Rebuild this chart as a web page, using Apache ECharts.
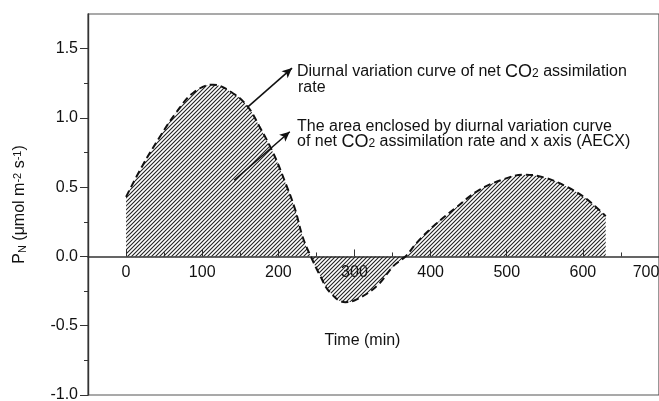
<!DOCTYPE html>
<html>
<head>
<meta charset="utf-8">
<script src="https://cdn.jsdelivr.net/npm/echarts@6/dist/echarts.min.js"></script>
<style>
  html, body { margin: 0; padding: 0; background: #fff; }
  #chart { width: 659px; height: 401px; }
</style>
</head>
<body>
<div id="chart"></div>
<script>
// diurnal net CO2 assimilation rate
const timeMin = [0, 21, 44, 66, 88, 114, 140, 160, 175, 193, 208, 222, 232, 241, 255, 268, 288, 303, 330, 351, 367, 382, 404, 435, 461, 492, 523, 549, 580, 606, 630];
const pn = [0.43, 0.65, 0.86, 1.04, 1.18, 1.24, 1.18, 1.08, 0.94, 0.75, 0.55, 0.34, 0.14, 0.02, -0.14, -0.26, -0.33, -0.31, -0.21, -0.07, 0, 0.10, 0.22, 0.36, 0.47, 0.55, 0.59, 0.57, 0.50, 0.41, 0.29];

// tick values
const xMajor = [0, 100, 200, 300, 400, 500, 600, 700];
const xMinor = [50, 150, 250, 350, 450, 550, 650];
const yMajor = [-1, -0.5, 0, 0.5, 1, 1.5];
const yMinor = [-0.75, -0.25, 0.25, 0.75, 1.25];
const yMin = -1, yMax = 1.75;

// arrow start/end points (data coords)
const arrowCurve = [[160, 1.08], [218, 1.36]];
const arrowArea = [[142, 0.55], [215, 0.90]];

const FONT = "'Liberation Sans', Arial, sans-serif";
const H = 401, TOP = 14, BOTTOM = 6;
// lift the x axis from the grid bottom up to y = 0
const zeroOffset = -(H - TOP - BOTTOM) * (0 - yMin) / (yMax - yMin);

function hatch() {
  const c = document.createElement('canvas');
  c.width = 4; c.height = 4;
  const g = c.getContext('2d');
  g.strokeStyle = '#222';
  g.lineWidth = 1.1;
  g.beginPath();
  g.moveTo(-1, 5); g.lineTo(5, -1);
  g.moveTo(-1, 1); g.lineTo(1, -1);
  g.moveTo(3, 5); g.lineTo(5, 3);
  g.stroke();
  return c;
}

const chart = echarts.init(document.getElementById('chart'));

const rich = {
  t: { fontSize: 16, fontFamily: FONT, color: '#111' },
  sub: { fontSize: 11, fontFamily: FONT, color: '#111', verticalAlign: 'bottom' },
  sup: { fontSize: 11, fontFamily: FONT, color: '#111', verticalAlign: 'top' },
  co: { fontSize: 18, fontFamily: FONT, color: '#111' },
  c2: { fontSize: 12, fontFamily: FONT, color: '#111', verticalAlign: 'bottom', padding: [0, 0, 1, 0] }
};

function note(x, y, text) {
  return {
    type: 'text', left: x, top: y,
    style: { text: text, font: '16px ' + FONT, fill: '#111', rich: rich }
  };
}

const option = {
  animation: false,
  grid: { left: 88, right: 0, top: TOP, bottom: BOTTOM, outerBoundsMode: 'none', containLabel: false,
    show: true, borderColor: '#555', borderWidth: 1.2 },
  xAxis: [
    {
      type: 'value', min: -50, max: 700, position: 'bottom', offset: zeroOffset,
      axisLine: { onZero: false, lineStyle: { color: '#333', width: 1.6 } },
      axisTick: { show: true, inside: true, length: 7, customValues: xMajor, lineStyle: { color: '#333' } },
      axisLabel: {
        customValues: xMajor, fontSize: 16, fontFamily: FONT, color: '#111', margin: 8,
        formatter: v => v === 700 ? '{r|700}' : String(v),
        rich: { r: { fontSize: 16, fontFamily: FONT, color: '#111', padding: [0, 26, 0, 0] } }
      },
      splitLine: { show: false },
      name: 'Time (min)', nameLocation: 'middle', nameGap: 76,
      nameTextStyle: { fontSize: 16, fontFamily: FONT, color: '#111', padding: [0, 22, 0, 0] }
    },
    {
      type: 'value', min: -50, max: 700, position: 'bottom', offset: zeroOffset,
      axisLine: { onZero: false, show: false },
      axisTick: { show: true, inside: true, length: 4, customValues: xMinor, lineStyle: { color: '#333' } },
      axisLabel: { show: false },
      splitLine: { show: false }
    }
  ],
  yAxis: [
    {
      type: 'value', min: yMin, max: yMax, position: 'left',
      axisLine: { show: true, onZero: false, lineStyle: { color: '#333', width: 1.4 } },
      axisTick: { show: true, length: 8, customValues: yMajor, lineStyle: { color: '#333' } },
      axisLabel: { customValues: yMajor, fontSize: 16, fontFamily: FONT, color: '#111', margin: 10, formatter: v => v.toFixed(1) },
      splitLine: { show: false },
      name: '{t|P}{sub|N}{t| (μmol m}{sup|-2}{t| s}{sup|-1}{t|)}', nameLocation: 'middle', nameRotate: 90, nameGap: 60,
      nameTextStyle: { fontSize: 16, fontFamily: FONT, color: '#111', rich: rich }
    },
    {
      type: 'value', min: yMin, max: yMax, position: 'left',
      axisLine: { show: false, onZero: false },
      axisTick: { show: true, length: 4, customValues: yMinor, lineStyle: { color: '#333' } },
      axisLabel: { show: false },
      splitLine: { show: false }
    }
  ],
  series: [{
    type: 'line',
    data: timeMin.map((t, i) => [t, pn[i]]),
    smooth: 0.4,
    symbol: 'none',
    lineStyle: { color: '#111', width: 2, type: [7, 4] },
    areaStyle: { color: { image: hatch(), repeat: 'repeat' }, opacity: 1 },
    markLine: {
      silent: true,
      symbol: ['none', 'arrow'],
      symbolSize: [7, 10],
      label: { show: false },
      lineStyle: { color: '#111', width: 1.6, type: 'solid' },
      data: [
        [{ coord: arrowCurve[0] }, { coord: arrowCurve[1] }],
        [{ coord: arrowArea[0] }, { coord: arrowArea[1] }]
      ]
    }
  }],
  graphic: [
    note(297, 63, '{t|Diurnal variation curve of net }{co|CO}{c2|2}{t| assimilation}'),
    note(298, 80, '{t|rate}'),
    note(297, 119, '{t|The area enclosed by diurnal variation curve}'),
    note(297, 133, '{t|of net }{co|CO}{c2|2}{t| assimilation rate and x axis (AECX)}')
  ]
};

chart.setOption(option);
</script>
</body>
</html>
